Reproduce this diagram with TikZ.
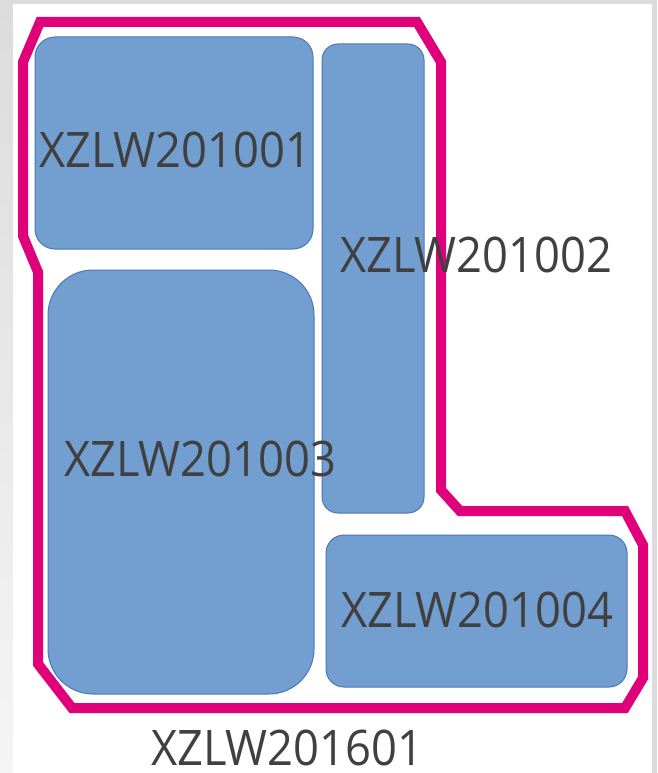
\documentclass[tikz,border=0pt]{standalone}
\usepackage{fontspec}
\usepackage{graphicx}
\setmainfont{Open Sans}
\definecolor{mag}{HTML}{E0007A}
\definecolor{boxfill}{HTML}{729FD0}
\definecolor{boxline}{HTML}{4C76BC}
\definecolor{txt}{HTML}{404040}
\definecolor{bggray}{HTML}{DCDCDC}
\newcommand{\lbltext}[1]{\scalebox{0.925}[1]{#1}}
\begin{document}
\begin{tikzpicture}[x=1pt,y=-1pt,
  box/.style={draw=boxline, fill=boxfill, line width=1pt, inner sep=0pt, outer sep=0pt},
  lbl/.style={anchor=base west, inner sep=0pt, text depth=0pt, text=txt, font=\fontsize{49}{49}\selectfont},
  outline/.style={draw=mag, line width=10pt, line join=miter}]
\useasboundingbox (0,0) rectangle (657,773);
% background
\fill[bggray] (0,0) rectangle (657,773);
\shade[top color=bggray, bottom color=white!96!black] (0,4) rectangle (13,773);
\fill[white] (13,4) rectangle (652,773);
% outline
\draw[outline] (40,22) -- (417,22) -- (441,62) -- (441,490) -- (460,511) -- (625,511)
  -- (643,545) -- (643,678) -- (625,708) -- (72,708) -- (38,664) -- (38,272)
  -- (23,236) -- (23,62) -- cycle;
% boxes
\node[box, rounded corners=20pt, minimum width=278pt, minimum height=212pt] (b1) at (174,143) {};
\node[box, rounded corners=16pt, minimum width=102pt, minimum height=469pt] (b2) at (373,278.5) {};
\node[box, rounded corners=45pt, minimum width=266pt, minimum height=424pt] (b3) at (181,482) {};
\node[box, rounded corners=18pt, minimum width=301pt, minimum height=152pt] (b4) at (476.5,611) {};
% labels
\node[lbl] (l1) at (39,167) {\lbltext{XZLW201001}};
\node[lbl] (l2) at (340,272) {\lbltext{XZLW201002}};
\node[lbl] (l3) at (64,476) {\lbltext{XZLW201003}};
\node[lbl] (l4) at (341,627) {\lbltext{XZLW201004}};
\node[lbl] (l5) at (151,765) {\lbltext{XZLW201601}};
\end{tikzpicture}
\end{document}
